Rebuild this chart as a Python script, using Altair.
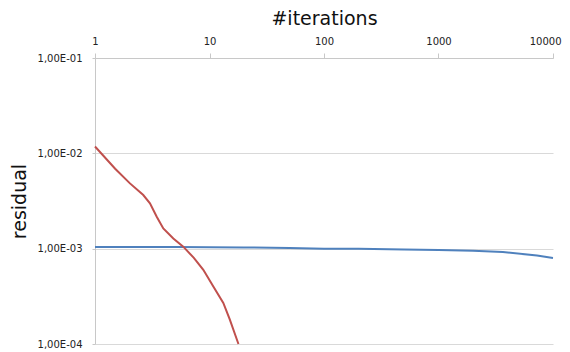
import altair as alt
import pandas as pd

# Blue series (flat)
blue_x = [1, 2, 5, 10, 20, 50, 100, 200, 500, 1000, 2000, 3650, 7250, 10000]
blue_y = [1.04e-3, 1.04e-3, 1.04e-3, 1.035e-3, 1.03e-3, 1.015e-3, 1.0e-3, 0.995e-3,
          0.98e-3, 0.97e-3, 0.95e-3, 0.92e-3, 0.85e-3, 0.80e-3]

# Red series (fast decay)
red_x = [1, 1.5, 2.02, 2.64, 3.02, 3.46, 3.95, 4.83, 5.9, 7.3, 8.83,
         10.8, 13.2, 15.0, 17.9]
red_y = [1.18e-2, 6.9e-3, 4.84e-3, 3.65e-3, 2.99e-3, 2.16e-3, 1.63e-3, 1.28e-3, 1.05e-3,
         8.0e-4, 6.0e-4, 4.0e-4, 2.7e-4, 1.82e-4, 1.0e-4]

x_ticks = [1, 10, 100, 1000, 10000]
y_ticks = [1e-4, 1e-3, 1e-2, 1e-1]

df = pd.concat([
    pd.DataFrame({"it": blue_x, "res": blue_y, "s": "blue"}),
    pd.DataFrame({"it": red_x, "res": red_y, "s": "red"}),
])

chart = alt.Chart(df).mark_line(strokeWidth=2).encode(
    x=alt.X("it:Q", scale=alt.Scale(type="log", domain=[1, 10000], nice=False),
            axis=alt.Axis(orient="top", values=x_ticks, title="#iterations", format="d",
                          grid=False, tickSize=5, labelPadding=7, titlePadding=8,
                          labelFlush=False,
                          labelAlign={"condition": {"test": "datum.value >= 10000", "value": "right"},
                                      "value": "center"},
                          labelOffset={"condition": {"test": "datum.value >= 10000", "value": 8},
                                       "value": 0},
                          titleFontSize=19, titleFontWeight="normal", labelFontSize=10,
                          domainColor="#c8c8c8", tickColor="#c8c8c8",
                          labelColor="#222", titleColor="#111", labelFont="DejaVu Sans",
                          titleFont="DejaVu Sans")),
    y=alt.Y("res:Q", scale=alt.Scale(type="log", domain=[1e-4, 1e-1], nice=False),
            axis=alt.Axis(values=y_ticks, title="residual",
                          labelExpr="'1,00E-0' + round(-log(datum.value)/LN10)",
                          grid=True, gridColor="#d9d9d9", tickSize=3, labelPadding=10,
                          titlePadding=8, titleFontSize=19, titleFontWeight="normal",
                          labelFontSize=10, domainColor="#c8c8c8", tickColor="#c8c8c8",
                          labelColor="#222", titleColor="#111", labelFont="DejaVu Sans",
                          titleFont="DejaVu Sans")),
    color=alt.Color("s:N", scale=alt.Scale(domain=["blue", "red"], range=["#4F81BD", "#C0504D"]),
                    legend=None),
    detail="s:N",
).properties(
    width=458, height=286,
    autosize=alt.AutoSizeParams(type="none"),
    padding={"left": 87, "top": 50, "right": 9, "bottom": 6},
).configure_view(stroke=None)

chart.save("out.html", embed_options={"renderer": "svg", "actions": False})
